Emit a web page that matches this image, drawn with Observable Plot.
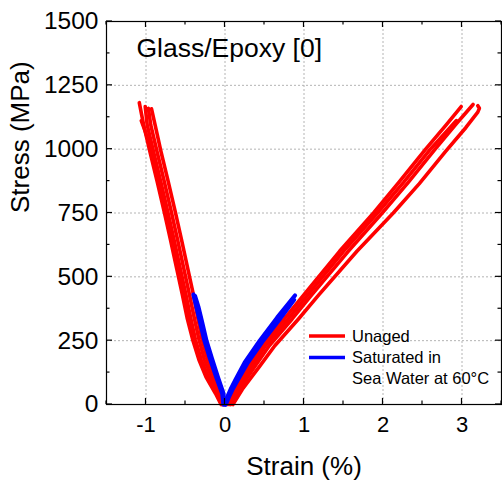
<!DOCTYPE html>
<html><head><meta charset="utf-8">
<script src="https://cdn.jsdelivr.net/npm/d3@7"></script>
<script src="https://cdn.jsdelivr.net/npm/@observablehq/plot@0.6"></script>
<style>body{margin:0;background:#fff;} svg{display:block;}</style>
</head><body><div id="chart"></div>
<script>
// Axis ticks
const xMajor = [-1, 0, 1, 2, 3];
const xMinor = [-1.5, -0.5, 0.5, 1.5, 2.5, 3.5];
const yMajor = [0, 250, 500, 750, 1000, 1250, 1500];
const yMinor = [125, 375, 625, 875, 1125, 1375];
const yGrid = [250, 500, 750, 1000, 1250];
const legendLabels = ["Unaged", "Saturated in", "Sea Water at 60°C"];

// Unaged (red) - tension curves
const redT1Strain = [0.03, 0.12, 0.30, 0.47, 0.75, 1.00, 1.45, 1.88, 2.20, 2.54, 2.80, 2.99];
const redT1Stress = [0, 60, 150, 230, 335, 430, 600, 750, 870, 1000, 1095, 1167];
const redT2Strain = [0.05, 0.15, 0.34, 0.51, 0.80, 1.05, 1.50, 1.93, 2.26, 2.60, 2.93];
const redT2Stress = [0, 60, 150, 230, 335, 430, 600, 750, 870, 1000, 1112];
const redT3Strain = [0.07, 0.18, 0.38, 0.56, 0.85, 1.10, 1.56, 1.99, 2.32, 2.66, 2.93, 3.14];
const redT3Stress = [0, 60, 150, 230, 335, 430, 600, 750, 870, 1000, 1100, 1175];
const redT4Strain = [0.10, 0.22, 0.44, 0.63, 0.93, 1.19, 1.67, 2.13, 2.46, 2.79, 3.05, 3.20, 3.22, 3.20];
const redT4Stress = [0, 60, 150, 230, 335, 430, 600, 750, 865, 990, 1085, 1145, 1160, 1170];
// Unaged (red) - compression curves
const redC1Strain = [-0.05, -0.12, -0.24, -0.33, -0.41, -0.48, -0.54, -0.61, -0.69, -0.77, -0.86, -0.95, -1.03, -1.085];
const redC1Stress = [0, 43, 107, 175, 255, 340, 430, 530, 645, 755, 875, 990, 1095, 1182];
const redC2Strain = [-0.035, -0.095, -0.21, -0.30, -0.375, -0.435, -0.495, -0.565, -0.645, -0.725, -0.815, -0.905, -0.985, -1.01];
const redC2Stress = [0, 43, 107, 175, 255, 340, 430, 530, 645, 755, 875, 990, 1095, 1167];
const redC3Strain = [-0.02, -0.07, -0.17, -0.26, -0.33, -0.39, -0.45, -0.52, -0.60, -0.68, -0.77, -0.86, -0.94, -0.97];
const redC3Stress = [0, 43, 107, 175, 255, 340, 430, 530, 645, 755, 875, 990, 1095, 1160];
const redC4Strain = [-0.01, -0.04, -0.13, -0.22, -0.29, -0.345, -0.40, -0.47, -0.55, -0.63, -0.72, -0.81, -0.885, -0.93];
const redC4Stress = [0, 43, 107, 175, 255, 340, 430, 530, 645, 755, 875, 990, 1095, 1158];
const redC5Strain = [-0.04, -0.105, -0.225, -0.315, -0.395, -0.46, -0.52, -0.59, -0.67, -0.75, -0.84, -0.93, -1.01, -1.06];
const redC5Stress = [0, 43, 107, 175, 255, 340, 430, 530, 645, 755, 875, 990, 1070, 1112];

// Saturated in sea water (blue)
const blueC1Strain = [-0.02, -0.035, -0.11, -0.19, -0.26, -0.32, -0.36, -0.40];
const blueC1Stress = [0, 43, 107, 180, 250, 329, 380, 431];
const blueC2Strain = [-0.01, -0.02, -0.09, -0.165, -0.235, -0.295, -0.335, -0.38];
const blueC2Stress = [0, 43, 107, 180, 250, 329, 380, 425];
const blueT1Strain = [0, 0.03, 0.08, 0.13, 0.25, 0.44, 0.66, 0.886];
const blueT1Stress = [0, 30, 65, 95, 165, 250, 340, 427];
const blueT2Strain = [0.01, 0.05, 0.10, 0.16, 0.28, 0.47, 0.69, 0.875];
const blueT2Stress = [0, 30, 62, 95, 160, 245, 333, 410];

const curves = [
  ["r1", "Unaged", redT1Strain, redT1Stress],
  ["r2", "Unaged", redT2Strain, redT2Stress],
  ["r3", "Unaged", redT3Strain, redT3Stress],
  ["r4", "Unaged", redT4Strain, redT4Stress],
  ["r5", "Unaged", redC1Strain, redC1Stress],
  ["r6", "Unaged", redC2Strain, redC2Stress],
  ["r7", "Unaged", redC3Strain, redC3Stress],
  ["r8", "Unaged", redC4Strain, redC4Stress],
  ["r9", "Unaged", redC5Strain, redC5Stress],
  ["b1", "Saturated", blueC1Strain, blueC1Stress],
  ["b2", "Saturated", blueC2Strain, blueC2Stress],
  ["b3", "Saturated", blueT1Strain, blueT1Stress],
  ["b4", "Saturated", blueT2Strain, blueT2Stress]
];
const rows = curves.flatMap(([id, group, xs, ys]) => xs.map((x, i) => ({id, group, strain: x, stress: ys[i]})));
const redRows = rows.filter(d => d.group === "Unaged");
const blueRows = rows.filter(d => d.group === "Saturated");

const W = 502, H = 483, mL = 106, mR = 1, mT = 21, mB = 79;
const font = "'Liberation Sans', Arial, sans-serif";

const plot = Plot.plot({
  width: W, height: H,
  marginLeft: mL, marginRight: mR, marginTop: mT, marginBottom: mB,
  style: {fontFamily: font, background: "#fff", color: "#000"},
  x: {domain: [-1.5, 3.5]},
  y: {domain: [0, 1500]},
  color: {domain: ["Unaged", "Saturated"], range: ["#ff0000", "#0000ff"]},
  marks: [
    Plot.gridX(xMajor, {stroke: "#b4b4b4", strokeOpacity: 1, strokeDasharray: "2,2"}),
    Plot.gridY(yGrid, {stroke: "#b4b4b4", strokeOpacity: 1, strokeDasharray: "2,2"}),
    Plot.line(redRows, {x: "strain", y: "stress", z: "id", stroke: "group", strokeWidth: 3.6, strokeLinejoin: "round", strokeLinecap: "round"}),
    Plot.line(blueRows, {x: "strain", y: "stress", z: "id", stroke: "group", strokeWidth: 4.2, strokeLinejoin: "round", strokeLinecap: "round"}),
    Plot.frame({stroke: "#000", strokeWidth: 1.2}),
    Plot.axisX({ticks: xMajor, tickSize: 0, tickPadding: 12, fontSize: 22, label: null, tickFormat: d => d < 0 ? "-" + Math.abs(d) : String(d)}),
    Plot.axisY({ticks: yMajor, tickSize: 0, tickPadding: 8, fontSize: 24.5, label: null, tickFormat: d => String(d)}),
    Plot.text(["Strain (%)"], {frameAnchor: "bottom", dy: 62, fontSize: 26, lineAnchor: "middle"}),
    Plot.text(["Stress (MPa)"], {frameAnchor: "left", dx: -86, rotate: -90, fontSize: 26, lineAnchor: "middle"}),
    Plot.text(["Glass/Epoxy [0]"], {frameAnchor: "top-left", dx: 30, dy: 27, fontSize: 26.5, lineAnchor: "middle", textAnchor: "start"})
  ]
});

const svg = d3.select(plot);
const sx = plot.scale("x"), sy = plot.scale("y");
const [xl, xr] = sx.range, [yb, yt] = sy.range;

// Inward ticks on all four sides, from the plot's own scales
const tg = svg.append("g").attr("stroke", "#000").attr("stroke-width", 1.2);
[[xMajor, 6], [xMinor, 3.5]].forEach(([vals, len]) => vals.forEach(v => {
  const px = sx.apply(v);
  tg.append("line").attr("x1", px).attr("x2", px).attr("y1", yb).attr("y2", yb - len);
  tg.append("line").attr("x1", px).attr("x2", px).attr("y1", yt).attr("y2", yt + len);
}));
[[yMajor, 6], [yMinor, 3.5]].forEach(([vals, len]) => vals.forEach(v => {
  const py = sy.apply(v);
  tg.append("line").attr("y1", py).attr("y2", py).attr("x1", xl).attr("x2", xl + len);
  tg.append("line").attr("y1", py).attr("y2", py).attr("x1", xr).attr("x2", xr - len);
}));

// In-plot legend (bottom-right)
const lg = svg.append("g").attr("font-family", font).attr("font-size", 16.5).attr("text-anchor", "start").attr("fill", "#000");
const items = [["#ff0000", legendLabels[0]], ["#0000ff", legendLabels[1]]];
items.forEach(([c, t], i) => {
  const y = 336 + i * 21.5;
  lg.append("line").attr("x1", 309).attr("x2", 345).attr("y1", y).attr("y2", y).attr("stroke", c).attr("stroke-width", 3.5);
  lg.append("text").attr("x", 352).attr("y", y).attr("dy", "0.35em").text(t);
});
lg.append("text").attr("x", 352).attr("y", 336 + 2 * 21.3).attr("dy", "0.35em").text(legendLabels[2]);

document.getElementById("chart").appendChild(plot);
</script>
</body></html>
